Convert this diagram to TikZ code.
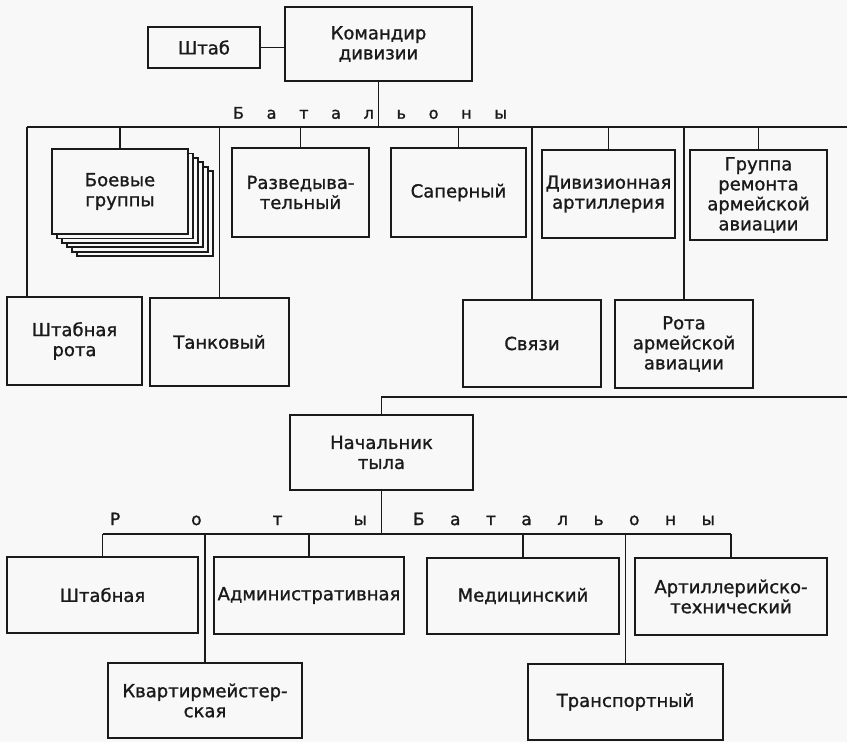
\documentclass[tikz,border=0pt]{standalone}
\usepackage{fontspec}
\setmainfont{DejaVu Sans}[RawFeature={embolden=1.2}]
\usepackage{tikz}
\usetikzlibrary{positioning,calc}
\definecolor{paper}{HTML}{F8F8F8}
\definecolor{ink}{HTML}{1A1A1A}
\tikzset{
  unitbox/.style={draw=ink, fill=paper, line width=2.4pt, align=center, text=ink, font=\fontsize{18}{20}\selectfont, inner sep=2pt},
  spaced/.style={inner sep=0pt, text=ink, font=\fontsize{16}{18}\selectfont},
  link/.style={draw=ink, line width=1.1pt}
}

\begin{document}
\begin{tikzpicture}[x=1pt, y=-1pt]
  \useasboundingbox[fill=paper] (0,0) rectangle (847,742);
  % division command
  \node[unitbox, minimum width=187pt, minimum height=74pt] (cmd) at (378.5,44) {Командир\\дивизии};
  \node[unitbox, minimum width=112pt, minimum height=41pt] (shtab) at (204,47.5) {Штаб};
  \draw[link] (shtab.east) -- (shtab.east -| cmd.west);
  % battalions
  \node[spaced] (bat) at (370,113) {\makebox[274pt][s]{Б а т а л ь о н ы}};
  \coordinate (busL) at (27,127);
  \coordinate (busR) at (847,127);
  \draw[link] (busL) -- (busR);
  \draw[link] (cmd.south) -- (cmd.south |- busL);
  \foreach \k in {5,4,...,1}
    \node[unitbox, line width=1.8pt, minimum width=136pt, minimum height=85pt] (bg\k) at (120+5*\k,191.5+4.4*\k) {};
  \node[unitbox, minimum width=136pt, minimum height=85pt] (bg) at (120,191.5) {Боевые\\группы};
  \node[unitbox, minimum width=137pt, minimum height=89pt] (rzv) at (300.5,192.5) {Разведыва-\\тельный};
  \node[unitbox, minimum width=135pt, minimum height=89pt] (sap) at (458.5,192.5) {Саперный};
  \node[unitbox, minimum width=133pt, minimum height=88pt] (div) at (608.5,194) {Дивизионная\\артиллерия};
  \node[unitbox, minimum width=137pt, minimum height=90pt] (grp) at (758.5,195) {Группа\\ремонта\\армейской\\авиации};
  \node[unitbox, minimum width=135pt, minimum height=88pt] (shr) at (74.5,341) {Штабная\\рота};
  \node[unitbox, minimum width=139pt, minimum height=88pt] (tank) at (219.5,342) {Танковый};
  \node[unitbox, minimum width=138pt, minimum height=87pt] (svz) at (532,343.5) {Связи};
  \node[unitbox, minimum width=138pt, minimum height=88pt] (rota) at (684,344) {Рота\\армейской\\авиации};
  \foreach \n in {bg,rzv,sap,div,grp,tank,svz,rota}
    \draw[link] (\n.north) -- (\n.north |- busL);
  \draw[link] (busL) -- (busL |- shr.north);
  % rear services
  \node[unitbox, minimum width=183pt, minimum height=75pt] (nt) at (381.5,452.5) {Начальник\\тыла};
  \coordinate (rearR) at (847,397);
  \draw[link] (nt.north) |- (rearR);
  \node[spaced, font=\fontsize{17}{19}\selectfont] (rot) at (238.5,519) {\makebox[257pt][s]{Р о т ы}};
  \node[spaced, font=\fontsize{17}{19}\selectfont] (bat2) at (564,519) {\makebox[302pt][s]{Б а т а л ь о н ы}};
  \coordinate (lowbus) at (0,534);
  \node[unitbox, minimum width=191pt, minimum height=76pt] (shn) at (102.5,595) {Штабная};
  \node[unitbox, minimum width=190pt, minimum height=77pt] (adm) at (309,595.5) {Административная};
  \node[unitbox, minimum width=194pt, minimum height=75pt] (kv) at (205,700.5) {Квартирмейстер-\\ская};
  \node[unitbox, minimum width=192pt, minimum height=76pt] (med) at (523,596) {Медицинский};
  \node[unitbox, minimum width=192pt, minimum height=77pt] (art) at (731,596.5) {Артиллерийско-\\технический};
  \node[unitbox, minimum width=195pt, minimum height=76pt] (tr) at (625.5,702) {Транспортный};
  \draw[link] (nt.south) -- (nt.south |- lowbus);
  \draw[link] (shn.north |- lowbus) -- (art.north |- lowbus);
  \foreach \n in {shn,adm,kv,med,art,tr}
    \draw[link] (\n.north) -- (\n.north |- lowbus);
\end{tikzpicture}
\end{document}
